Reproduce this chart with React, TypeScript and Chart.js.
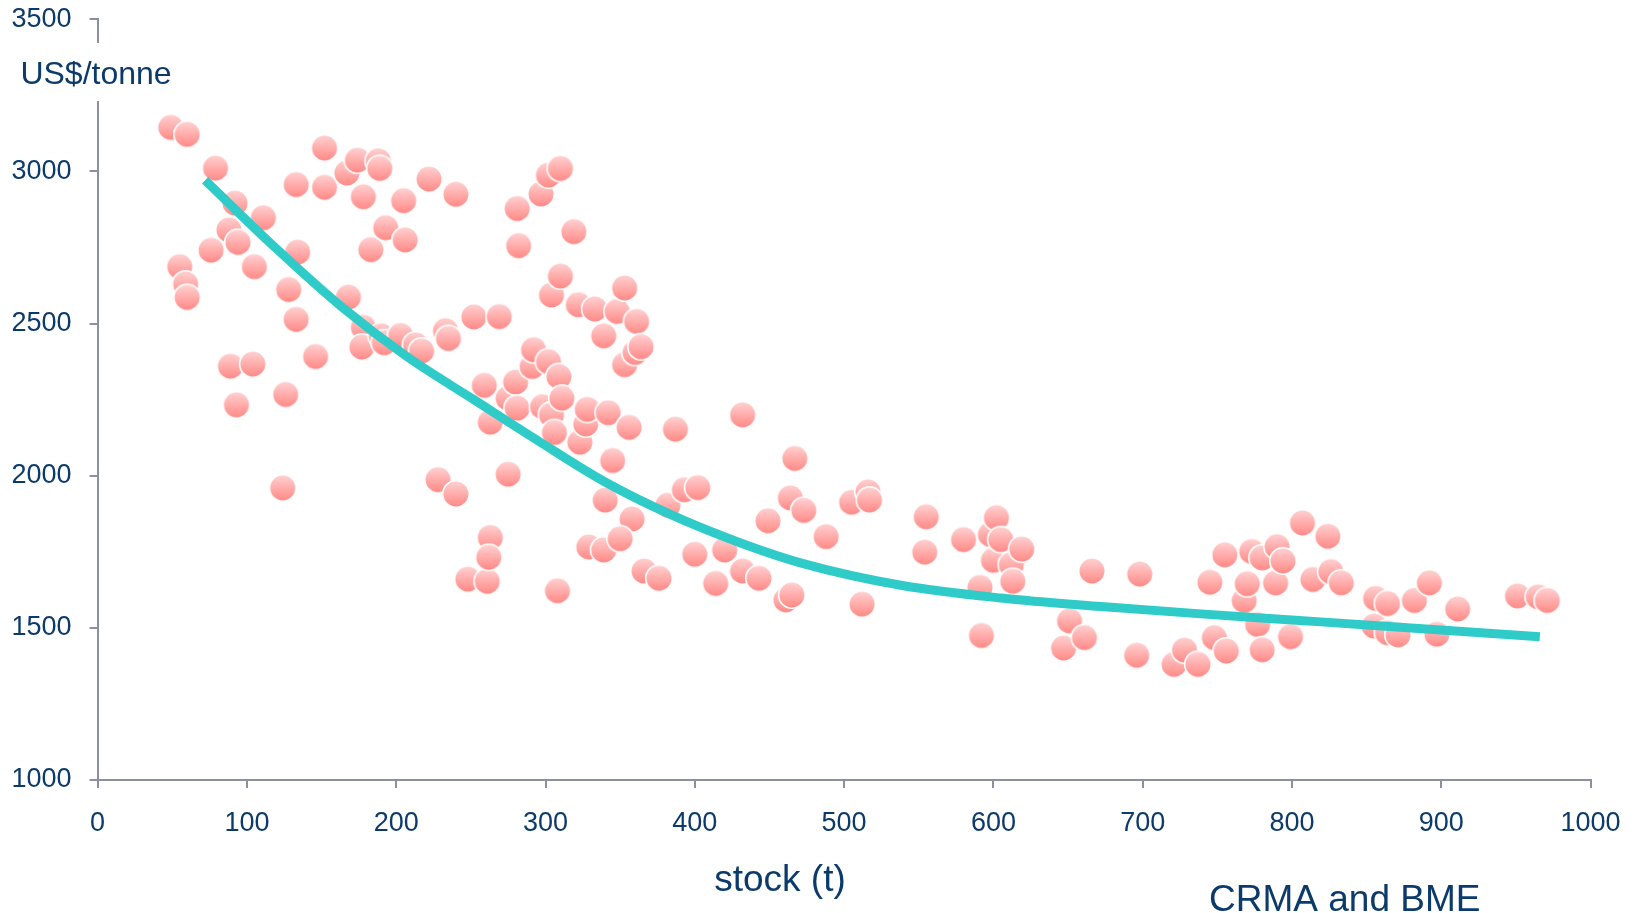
import React, { useEffect, useRef } from "react";
import { Chart, registerables } from "chart.js";

Chart.register(...registerables);

// Scatter observations: stock (t) and price (US$/tonne)
const stockX = [
  49, 60, 79, 55, 59, 60, 76, 88, 92, 94, 89, 93, 105, 104, 111, 124, 126, 128, 133, 134,
  133, 146, 152, 152, 167, 174, 168, 178, 183, 178, 177, 188, 189, 193, 190, 192, 203, 205, 206, 213,
  217, 222, 228, 233, 235, 240, 240, 252, 248, 259, 263, 261, 263, 262, 269, 275, 275, 280, 281, 281,
  282, 291, 292, 297, 298, 302, 304, 302, 304, 306, 309, 310, 310, 311, 308, 319, 322, 323, 327, 328,
  329, 333, 339, 339, 340, 342, 345, 348, 353, 353, 356, 358, 350, 361, 360, 364, 366, 376, 382, 387,
  393, 402, 400, 414, 420, 432, 432, 443, 449, 461, 465, 464, 467, 473, 488, 505, 512, 516, 517, 554,
  555, 580, 591, 592, 598, 602, 600, 605, 612, 613, 619, 647, 651, 661, 666, 696, 698, 721, 728, 737,
  745, 748, 756, 755, 768, 770, 773, 777, 780, 780, 789, 790, 794, 799, 807, 814, 824, 826, 833, 855,
  856, 864, 864, 871, 882, 892, 897, 911, 951, 965, 971,
];
const priceY = [
  3145, 3122, 3011, 2687, 2630, 2586, 2741, 2808, 2896, 2767, 2360, 2233, 2687, 2367, 2848, 1960, 2267, 2612, 2514, 2735,
  2957, 2392, 3077, 2948, 2995, 3037, 2587, 2917, 2743, 2488, 2423, 3035, 3010, 2815, 2460, 2437, 2461, 2904, 2775, 2430,
  2410, 2975, 1987, 2477, 2451, 2925, 1940, 2522, 1660, 2297, 2176, 1653, 1797, 1732, 2523, 2255, 2005, 2308, 2222, 2878,
  2756, 2359, 2414, 2926, 2227, 2988, 2594, 2375, 2200, 2142, 2326, 3010, 2656, 2255, 1622, 2802, 2562, 2110, 2170, 2218,
  1766, 2548, 2460, 1756, 1920, 2207, 2050, 2540, 2617, 2365, 2159, 1858, 1793, 2507, 2405, 2424, 1687, 1663, 1903, 2153,
  1954, 1961, 1742, 1646, 1756, 1687, 2200, 1663, 1852, 1592, 1608, 1927, 2057, 1886, 1800, 1913, 1578, 1947, 1920, 1749,
  1865, 1790, 1633, 1475, 1807, 1862, 1722, 1790, 1708, 1653, 1759, 1434, 1523, 1468, 1687, 1410, 1677, 1380, 1427, 1380,
  1650, 1468, 1424, 1740, 1590, 1645, 1751, 1511, 1730, 1428, 1648, 1767, 1720, 1471, 1845, 1659, 1801, 1685, 1648, 1506,
  1597, 1580, 1484, 1477, 1590, 1648, 1479, 1562, 1605, 1602, 1590,
];

// Fitted trend curve
const trendX = [72, 118, 163, 207, 252, 295, 339, 384, 428, 472, 538, 605, 672, 739, 800, 870, 966];
const trendY = [2971, 2754, 2557, 2392, 2250, 2115, 1982, 1872, 1784, 1712, 1640, 1598, 1570, 1546, 1526, 1503, 1471];

const yTitle = "US$/tonne";
const xTitle = "stock (t)";
const sourceText = "CRMA and BME";

const NAVY = "#0b3a6b";
const AXIS = "#8c8fa2";
const TEAL = "#2ecbc8";
const FONT = "'Liberation Sans', Arial, sans-serif";

function makeBall(): HTMLCanvasElement {
  const size = 30;
  const c = document.createElement("canvas");
  c.width = size;
  c.height = size;
  const ctx = c.getContext("2d")!;
  const r = 13.3;
  const g = ctx.createLinearGradient(0, size / 2 - r, 0, size / 2 + r);
  g.addColorStop(0, "#ffd3d3");
  g.addColorStop(1, "#ff8784");
  ctx.beginPath();
  ctx.arc(size / 2, size / 2, r, 0, Math.PI * 2);
  ctx.fillStyle = g;
  ctx.fill();
  ctx.lineWidth = 1.6;
  ctx.strokeStyle = "#ffffff";
  ctx.stroke();
  return c;
}

const textPlugin = {
  id: "textPlugin",
  afterDraw(chart: any) {
    const ctx = chart.ctx as CanvasRenderingContext2D;
    ctx.save();
    // gap in the y axis behind its title
    ctx.fillStyle = "#ffffff";
    ctx.fillRect(88, 43, 18, 58);
    ctx.fillStyle = NAVY;
    ctx.textBaseline = "alphabetic";
    ctx.font = `32px ${FONT}`;
    ctx.textAlign = "center";
    ctx.fillText(yTitle, 96, 84);
    ctx.font = `37px ${FONT}`;
    ctx.fillText(xTitle, 780, 891);
    ctx.textAlign = "left";
    ctx.fillText(sourceText, 1209, 911);
    ctx.restore();
  },
};

export default function App() {
  const ref = useRef<HTMLCanvasElement | null>(null);

  useEffect(() => {
    if (!ref.current) return;
    const ball = makeBall();
    const scatterData = stockX.map((x, i) => ({ x, y: priceY[i] }));
    const trendData = trendX.map((x, i) => ({ x, y: trendY[i] }));

    const chart = new Chart(ref.current, {
      type: "scatter",
      data: {
        datasets: [
          {
            type: "line",
            label: "trend",
            data: trendData,
            borderColor: TEAL,
            borderWidth: 9,
            pointRadius: 0,
            cubicInterpolationMode: "monotone",
            fill: false,
            order: 0,
          } as any,
          {
            type: "scatter",
            label: "obs",
            data: scatterData,
            pointStyle: ball as any,
            pointRadius: 14,
            order: 1,
          } as any,
        ],
      },
      options: {
        animation: false,
        responsive: true,
        maintainAspectRatio: false,
        layout: { padding: { left: 0, right: 44.4, top: 19.3, bottom: 0 } },
        plugins: {
          legend: { display: false },
          tooltip: { enabled: false },
          title: { display: false },
        },
        scales: {
          x: {
            type: "linear",
            min: 0,
            max: 1000,
            ticks: {
              stepSize: 100,
              color: NAVY,
              font: { family: FONT, size: 27 },
              padding: 19,
              maxRotation: 0,
              callback: (v: any) => String(v),
            },
            grid: {
              display: true,
              drawOnChartArea: false,
              drawTicks: true,
              tickLength: 8,
              color: AXIS,
              lineWidth: 2,
            },
            border: { display: true, color: AXIS, width: 2 },
            afterFit: (s: any) => {
              s.height = 133;
              s.paddingLeft = 0;
              s.paddingRight = 0;
            },
          },
          y: {
            type: "linear",
            min: 1000,
            max: 3500,
            ticks: {
              stepSize: 500,
              color: NAVY,
              font: { family: FONT, size: 27 },
              padding: 18,
              callback: (v: any) => String(v),
            },
            grid: {
              display: true,
              drawOnChartArea: false,
              drawTicks: true,
              tickLength: 8,
              color: AXIS,
              lineWidth: 2,
            },
            border: { display: true, color: AXIS, width: 2 },
            afterFit: (s: any) => {
              s.width = 97.6;
              s.paddingTop = 0;
              s.paddingBottom = 0;
            },
          },
        },
      },
      plugins: [textPlugin],
    });
    return () => chart.destroy();
  }, []);

  return (
    <div style={{ position: "fixed", left: 0, top: 0, width: 1635, height: 913, background: "#fff" }}>
      <canvas ref={ref} />
    </div>
  );
}
